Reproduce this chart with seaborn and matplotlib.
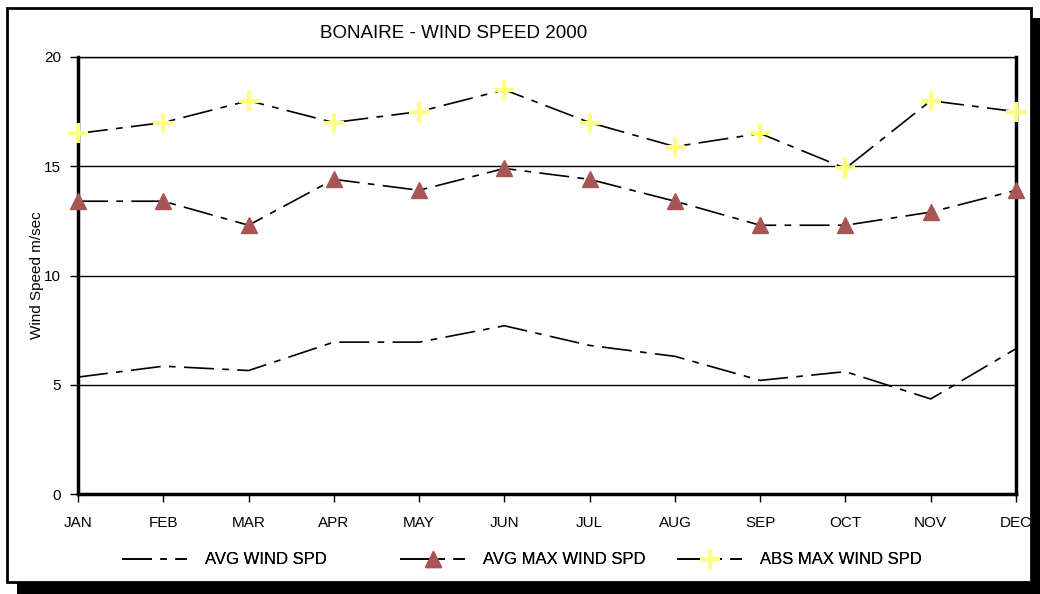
"""Bonaire wind speed 2000 - monthly line chart."""

import matplotlib

matplotlib.use("Agg")

import matplotlib.pyplot as plt
import pandas as pd
import seaborn as sns
from matplotlib.lines import Line2D
from matplotlib.patches import Rectangle

months = ["JAN", "FEB", "MAR", "APR", "MAY", "JUN",
          "JUL", "AUG", "SEP", "OCT", "NOV", "DEC"]
avg_wind = [5.35, 5.85, 5.65, 6.95, 6.95, 7.7, 6.8, 6.3, 5.2, 5.6, 4.35, 6.65]
avg_max_wind = [13.4, 13.4, 12.3, 14.4, 13.9, 14.9, 14.4, 13.4, 12.3, 12.3, 12.9, 13.9]
abs_max_wind = [16.5, 17.0, 18.0, 17.0, 17.5, 18.5, 17.0, 15.9, 16.5, 14.9, 18.0, 17.5]
series_names = ["AVG WIND SPD", "AVG MAX WIND SPD", "ABS MAX WIND SPD"]
y_ticks = [0, 5, 10, 15, 20]

sns.set_theme(style="white")
plt.rcParams["font.family"] = ["Liberation Sans", "DejaVu Sans"]
plt.rcParams["text.color"] = "black"
plt.rcParams["axes.labelcolor"] = "black"
plt.rcParams["xtick.color"] = "black"
plt.rcParams["ytick.color"] = "black"

df = pd.DataFrame({
    "month": months,
    series_names[0]: avg_wind,
    series_names[1]: avg_max_wind,
    series_names[2]: abs_max_wind,
})

fig = plt.figure(figsize=(10.4, 5.94), dpi=100)

# outer frame with drop shadow
fig.patches.append(Rectangle((17 / 1040, 0), 1023 / 1040, 576 / 594,
                             transform=fig.transFigure, facecolor="black",
                             edgecolor="none", zorder=0))
fig.patches.append(Rectangle((7 / 1040, 12 / 594), 1024 / 1040, 574 / 594,
                             transform=fig.transFigure, facecolor="white",
                             edgecolor="black", linewidth=2, zorder=1))

ax = fig.add_axes([78 / 1040, 1 - 494 / 594, 938 / 1040, 437 / 594])
ax.set_facecolor("none")
ax.set_zorder(2)

dash = (18, 5, 4, 5)
lw = 1.2
red = "#a85555"
yellow = "#ffff80"

for col in series_names:
    sns.lineplot(data=df, x="month", y=col, ax=ax, color="black",
                 linewidth=lw, sort=False)
for line in ax.lines:
    line.set_dashes(dash)
ax.plot(months, avg_max_wind, linestyle="none", marker="^", markersize=12,
        color=red, zorder=5, clip_on=False)
ax.plot(months, abs_max_wind, linestyle="none", marker="+", markersize=14,
        markeredgewidth=3, color=yellow, zorder=5, clip_on=False)

ax.set_xlim(0, len(months) - 1)
ax.set_ylim(0, 20)
ax.set_yticks(y_ticks)
for v in y_ticks[1:]:
    ax.axhline(v, color="black", linewidth=1, zorder=1)

for side in ["left", "bottom", "right"]:
    ax.spines[side].set_linewidth(2.5)
    ax.spines[side].set_color("black")
ax.spines["top"].set_linewidth(1)
ax.spines["top"].set_color("black")

ax.tick_params(axis="both", direction="out", length=6, width=1, color="black",
               labelsize=11, bottom=True, left=True)
ax.tick_params(axis="x", pad=10)
ax.tick_params(axis="y", pad=6)
ax.set_xlabel("")
ax.set_ylabel("Wind Speed m/sec", fontsize=11, labelpad=0)
ax.set_title("BONAIRE - WIND SPEED 2000", fontsize=13.5, x=0.40, pad=14)

handles = [
    Line2D([0], [0], color="black", linewidth=lw, dashes=dash),
    Line2D([0], [0], color="black", linewidth=lw, dashes=dash, marker="^",
           markersize=12, markerfacecolor=red, markeredgecolor=red),
    Line2D([0], [0], color="black", linewidth=lw, dashes=dash, marker="+",
           markersize=14, markeredgewidth=3, markeredgecolor=yellow),
]
legend_x = [122, 400, 677]
for handle, name, x in zip(handles, series_names, legend_x):
    leg = fig.legend([handle], [name], loc="center left",
                     bbox_to_anchor=(x / 1040, 1 - 560 / 594),
                     frameon=False, fontsize=12, handlelength=3.9,
                     handletextpad=1.1, borderpad=0, borderaxespad=0)
    fig.add_artist(leg)

fig.savefig("out.png", dpi=100)
plt.close(fig)
